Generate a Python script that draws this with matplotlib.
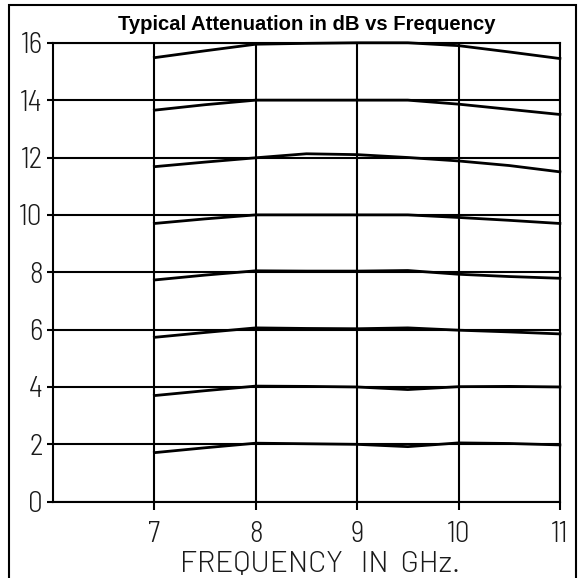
import matplotlib
matplotlib.use('Agg')
import matplotlib.pyplot as plt
from matplotlib.patches import Rectangle

freq = [7, 7.5, 8, 8.5, 9, 9.5, 10, 10.5, 11]

# attenuation curves in dB, one per nominal value
att_16 = [15.48, 15.72, 15.95, 15.98, 16.0, 16.0, 15.9, 15.68, 15.45]
att_14 = [13.65, 13.84, 14.0, 14.0, 14.0, 14.0, 13.86, 13.68, 13.50]
att_12 = [11.68, 11.84, 11.99, 12.13, 12.1, 12.0, 11.88, 11.72, 11.50]
att_10 = [9.70, 9.86, 10.0, 10.0, 10.0, 10.0, 9.91, 9.81, 9.70]
att_8 = [7.73, 7.90, 8.05, 8.04, 8.04, 8.06, 7.93, 7.85, 7.79]
att_6 = [5.73, 5.90, 6.06, 6.04, 6.03, 6.06, 5.98, 5.92, 5.85]
att_4 = [3.70, 3.87, 4.03, 4.02, 4.0, 3.91, 4.01, 4.02, 4.0]
att_2 = [1.71, 1.88, 2.04, 2.02, 2.0, 1.92, 2.05, 2.03, 1.98]

curves = [att_16, att_14, att_12, att_10, att_8, att_6, att_4, att_2]

x_ticks = [7, 8, 9, 10, 11]
y_ticks = [0, 2, 4, 6, 8, 10, 12, 14, 16]

title = 'Typical Attenuation in dB vs Frequency'
xlabel = 'FREQUENCY   IN  GHz.'

# thin, narrow lettering like the drafting font of the original
narrow = ['Barlow Semi Condensed', 'DejaVu Sans']
wide = ['Barlow', 'DejaVu Sans']
lab_size = 21

fig = plt.figure(figsize=(5.79, 5.78), dpi=100)
ax = fig.add_axes([0.0915, 0.132, 0.8755, 0.794])

for c in curves:
    ax.plot(freq, c, color='black', lw=2.0, clip_on=False, zorder=3)

ax.set_xlim(6, 11)
ax.set_ylim(0, 16)
ax.set_xticks(x_ticks)
ax.set_yticks(y_ticks)
ax.grid(True, color='black', lw=1.5)
ax.set_axisbelow(True)

for s in ax.spines.values():
    s.set_linewidth(1.5)
    s.set_color('black')

ax.tick_params(axis='x', direction='out', length=6, width=1.5, pad=8,
               labelsize=lab_size)
ax.tick_params(axis='y', direction='out', length=4.5, width=1.5, pad=3,
               labelsize=lab_size)
for lab in ax.get_xticklabels() + ax.get_yticklabels():
    lab.set_family(narrow)
    lab.set_fontweight(300)
    lab.set_color('#1a1a1a')

fig.text(0.553, 0.011, xlabel, ha='center', va='baseline', fontsize=21.5,
         family=wide, fontweight=300, color='#1a1a1a')
fig.text(0.530, 0.948, title, ha='center', va='baseline', fontsize=14.6,
         fontweight='bold', family=['Liberation Sans', 'DejaVu Sans'])

# outer frame (bottom edge sits below the canvas)
fig.patches.append(Rectangle((0.0155, -0.02), 0.979, 1.011, fill=False,
                             lw=1.5, edgecolor='black',
                             transform=fig.transFigure, figure=fig))

fig.savefig('out.png', dpi=100)
